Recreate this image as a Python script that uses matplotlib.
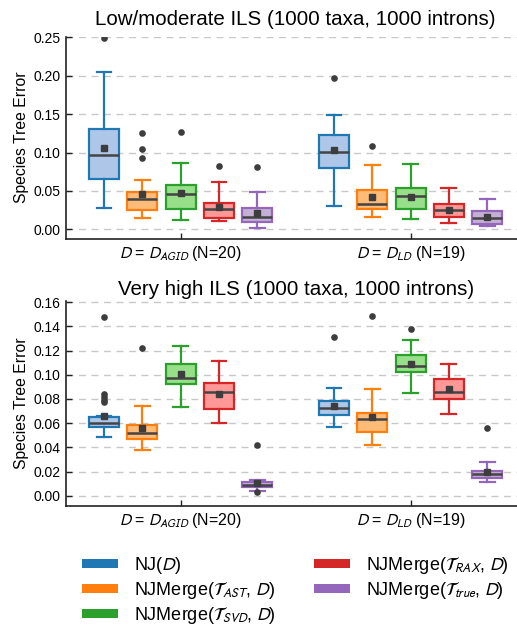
import matplotlib
matplotlib.use('Agg')
import matplotlib.pyplot as plt
from matplotlib.patches import Patch

plt.rcParams['font.family'] = ['Liberation Sans', 'DejaVu Sans']
plt.rcParams['mathtext.fontset'] = 'stixsans'

# ---------------- data ----------------
methods = ['NJ($D$)',
           r'NJMerge($\mathcal{T}_{AST}$, $D$)',
           r'NJMerge($\mathcal{T}_{SVD}$, $D$)',
           r'NJMerge($\mathcal{T}_{RAX}$, $D$)',
           r'NJMerge($\mathcal{T}_{true}$, $D$)']
groups = ['$D$ = $D_{AGID}$ (N=20)', '$D$ = $D_{LD}$ (N=19)']
titles = ['Low/moderate ILS (1000 taxa, 1000 introns)',
          'Very high ILS (1000 taxa, 1000 introns)']
edge_colors = ['#1f77b4', '#ff7f0e', '#2ca02c', '#d62728', '#9467bd']
face_colors = ['#aec7e8', '#ffbb78', '#98df8a', '#ff9896', '#c5b0d5']

# Low/moderate ILS: [group][method]
low_whislo = [[0.0282, 0.0148, 0.0122, 0.0113, 0.0013],
              [0.0308, 0.0161, 0.0135, 0.0078, 0.0043]]
low_q1 = [[0.0655, 0.0250, 0.0265, 0.0148, 0.0095],
          [0.0803, 0.0265, 0.0265, 0.0156, 0.0065]]
low_med = [[0.0972, 0.0400, 0.0464, 0.0269, 0.0161],
           [0.1007, 0.0334, 0.0434, 0.0252, 0.0152]]
low_q3 = [[0.1306, 0.0490, 0.0577, 0.0347, 0.0273],
          [0.1228, 0.0512, 0.0534, 0.0334, 0.0234]]
low_whishi = [[0.2050, 0.0642, 0.0864, 0.0612, 0.0482],
              [0.1493, 0.0838, 0.0846, 0.0534, 0.0400]]
low_mean = [[0.1060, 0.0464, 0.0477, 0.0295, 0.0217],
            [0.1033, 0.0421, 0.0421, 0.0256, 0.0161]]
low_fliers = [[[0.249], [0.126, 0.1046, 0.0933], [0.127], [0.0829], [0.0816]],
              [[0.1975], [0.109], [], [], []]]

# Very high ILS: [group][method]
high_whislo = [[0.0483, 0.0378, 0.0731, 0.0599, 0.0039],
               [0.0571, 0.0422, 0.0850, 0.0679, 0.0110]]
high_q1 = [[0.0571, 0.0472, 0.0921, 0.0717, 0.0071],
           [0.0670, 0.0527, 0.1023, 0.0797, 0.0143]]
high_med = [[0.0599, 0.0521, 0.0977, 0.0855, 0.0090],
            [0.0723, 0.0632, 0.1073, 0.0861, 0.0179]]
high_q3 = [[0.0653, 0.0585, 0.1090, 0.0935, 0.0117],
           [0.0783, 0.0681, 0.1161, 0.0968, 0.0207]]
high_whishi = [[0.0658, 0.0742, 0.1241, 0.1114, 0.0130],
               [0.0891, 0.0883, 0.1291, 0.1090, 0.0279]]
high_mean = [[0.0661, 0.0563, 0.1004, 0.0841, 0.0108],
             [0.0739, 0.0651, 0.1087, 0.0886, 0.0196]]
high_fliers = [[[0.148, 0.0839, 0.0819, 0.0792, 0.0773], [0.1222], [], [], [0.0422, 0.0028]],
               [[0.131], [0.1484], [0.1382], [], [0.056]]]

# ---------------- figure ----------------
fig = plt.figure(figsize=(5.17, 6.28), dpi=100)
ax_top = fig.add_axes([0.127, 0.6198, 0.8897, 0.322])
ax_bot = fig.add_axes([0.127, 0.1947, 0.8897, 0.326])


def draw(ax, whislo, q1, med, q3, whishi, mean, fliers, ylim, yticks, title, pad):
    for g in range(len(groups)):
        for h in range(len(methods)):
            st = dict(whislo=whislo[g][h], q1=q1[g][h], med=med[g][h], q3=q3[g][h],
                      whishi=whishi[g][h], mean=mean[g][h], fliers=fliers[g][h])
            pos = g + (h - 2) / 6.0
            ec = edge_colors[h]
            ax.bxp([st], positions=[pos], widths=0.13, patch_artist=True,
                   showmeans=True, manage_ticks=False,
                   boxprops=dict(facecolor=face_colors[h], edgecolor=ec, linewidth=1.6),
                   whiskerprops=dict(color=ec, linewidth=1.6),
                   capprops=dict(color=ec, linewidth=1.6),
                   medianprops=dict(color='#444444', linewidth=1.8),
                   meanprops=dict(marker='s', markerfacecolor='#3d3d3d',
                                  markeredgecolor='#3d3d3d', markersize=4.0),
                   flierprops=dict(marker='o', markerfacecolor='#3d3d3d',
                                   markeredgecolor='none', markersize=4.8))
    ax.set_xlim(-0.5, 1.5)
    ax.set_ylim(*ylim)
    ax.set_xticks([0, 1])
    ax.set_xticklabels(groups, fontsize=11.5)
    ax.set_yticks(yticks)
    ax.set_yticklabels(['%.2f' % v for v in yticks], fontsize=10)
    ax.tick_params(direction='in', length=4, width=1, color='#222222')
    ax.grid(axis='y', linestyle=(0, (5, 4)), color='#c8c8c8', linewidth=1)
    ax.set_axisbelow(True)
    for s in ['top', 'right']:
        ax.spines[s].set_visible(False)
    for s in ['left', 'bottom']:
        ax.spines[s].set_color('#222222')
        ax.spines[s].set_linewidth(1.2)
    ax.set_ylabel('Species Tree Error', fontsize=11.3, labelpad=3.5)
    ax.set_title(title, fontsize=14.8, pad=pad)


draw(ax_top, low_whislo, low_q1, low_med, low_q3, low_whishi, low_mean, low_fliers,
     (-0.0123, 0.251), [0.00, 0.05, 0.10, 0.15, 0.20, 0.25], titles[0], 8)
draw(ax_bot, high_whislo, high_q1, high_med, high_q3, high_whishi, high_mean, high_fliers,
     (-0.0083, 0.161), [0.00, 0.02, 0.04, 0.06, 0.08, 0.10, 0.12, 0.14, 0.16], titles[1], 4)

handles = [Patch(facecolor=c, edgecolor='none') for c in edge_colors]
fig.legend(handles, methods, loc='upper center', bbox_to_anchor=(0.5716, 0.142),
           ncol=2, frameon=False, fontsize=13, handlelength=2.0, handleheight=0.45,
           handletextpad=0.9, columnspacing=2.1, labelspacing=0.22)

fig.savefig('out.png', dpi=100)
